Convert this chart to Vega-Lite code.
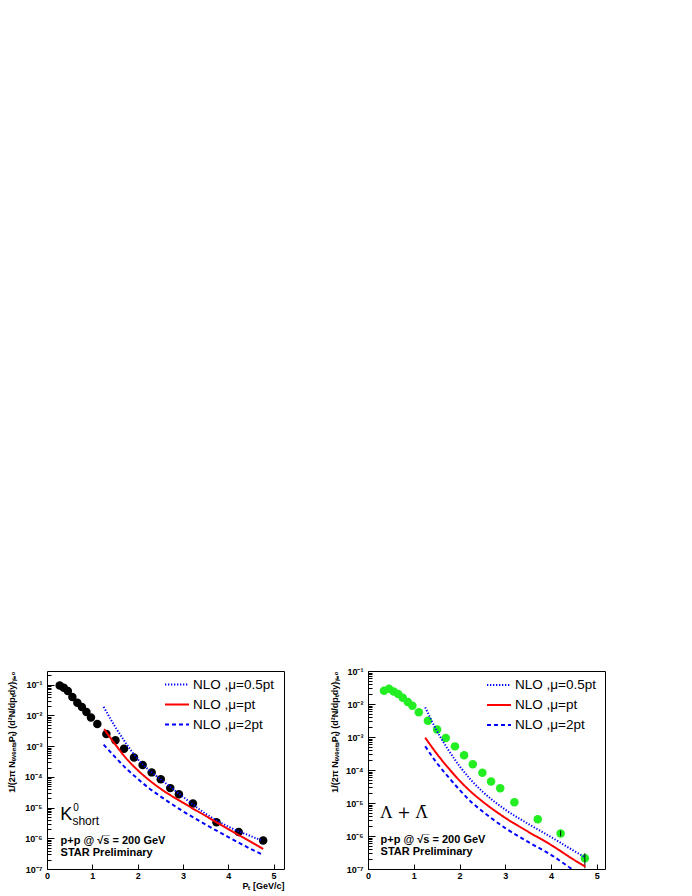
{
  "$schema": "https://vega.github.io/schema/vega-lite/v6.json",
  "background": "white",
  "padding": {"left": 7, "top": 666, "right": 0, "bottom": 0},
  "config": {
    "font": "Liberation Sans",
    "view": {"stroke": "black", "strokeWidth": 1},
    "axis": {
      "grid": false,
      "domain": false,
      "tickColor": "black",
      "labelColor": "black",
      "titleColor": "black",
      "labelFont": "Liberation Sans",
      "titleFont": "Liberation Sans",
      "labelFontSize": 9,
      "labelFontWeight": "bold",
      "titleFontSize": 9,
      "titleFontWeight": "bold",
      "labelOverlap": false,
      "labelFlush": false
    }
  },
  "datasets": {
    "k0pts": [
      {"pt": 0.28, "v": 0.095}, {"pt": 0.37, "v": 0.080}, {"pt": 0.46, "v": 0.063}, {"pt": 0.56, "v": 0.040},
      {"pt": 0.67, "v": 0.026}, {"pt": 0.77, "v": 0.019}, {"pt": 0.87, "v": 0.013}, {"pt": 0.97, "v": 0.0085},
      {"pt": 1.11, "v": 0.0053}, {"pt": 1.31, "v": 0.0025}, {"pt": 1.51, "v": 0.00155}, {"pt": 1.70, "v": 0.00083},
      {"pt": 1.92, "v": 0.00043}, {"pt": 2.11, "v": 0.000245}, {"pt": 2.31, "v": 0.000140}, {"pt": 2.51, "v": 0.000084},
      {"pt": 2.72, "v": 0.000043}, {"pt": 2.91, "v": 0.0000272}, {"pt": 3.22, "v": 0.0000135}, {"pt": 3.74, "v": 0.0000033},
      {"pt": 4.23, "v": 0.0000016}, {"pt": 4.77, "v": 0.00000085}
    ],
    "k0curves": [
      {"model": "NLO ,μ=0.5pt", "pt": 1.25, "v": 0.01905}, {"model": "NLO ,μ=0.5pt", "pt": 1.5, "v": 0.00437},
      {"model": "NLO ,μ=0.5pt", "pt": 1.75, "v": 0.0012}, {"model": "NLO ,μ=0.5pt", "pt": 2.0, "v": 0.00038},
      {"model": "NLO ,μ=0.5pt", "pt": 2.25, "v": 0.000166}, {"model": "NLO ,μ=0.5pt", "pt": 2.5, "v": 0.0000851},
      {"model": "NLO ,μ=0.5pt", "pt": 3.0, "v": 0.0000224}, {"model": "NLO ,μ=0.5pt", "pt": 3.5, "v": 0.00000631},
      {"model": "NLO ,μ=0.5pt", "pt": 4.0, "v": 0.0000024}, {"model": "NLO ,μ=0.5pt", "pt": 4.5, "v": 0.00000117},
      {"model": "NLO ,μ=0.5pt", "pt": 4.75, "v": 0.000000832},
      {"model": "NLO ,μ=pt", "pt": 1.26, "v": 0.0036}, {"model": "NLO ,μ=pt", "pt": 1.5, "v": 0.001175},
      {"model": "NLO ,μ=pt", "pt": 1.75, "v": 0.000398}, {"model": "NLO ,μ=pt", "pt": 2.0, "v": 0.000166},
      {"model": "NLO ,μ=pt", "pt": 2.25, "v": 0.0000794}, {"model": "NLO ,μ=pt", "pt": 2.5, "v": 0.0000417},
      {"model": "NLO ,μ=pt", "pt": 3.0, "v": 0.00001445}, {"model": "NLO ,μ=pt", "pt": 3.5, "v": 0.00000537},
      {"model": "NLO ,μ=pt", "pt": 4.0, "v": 0.000002}, {"model": "NLO ,μ=pt", "pt": 4.5, "v": 0.000000759},
      {"model": "NLO ,μ=pt", "pt": 4.77, "v": 0.000000447},
      {"model": "NLO ,μ=2pt", "pt": 1.25, "v": 0.00112}, {"model": "NLO ,μ=2pt", "pt": 1.5, "v": 0.000447},
      {"model": "NLO ,μ=2pt", "pt": 1.75, "v": 0.000186}, {"model": "NLO ,μ=2pt", "pt": 2.0, "v": 0.0000871},
      {"model": "NLO ,μ=2pt", "pt": 2.25, "v": 0.0000427}, {"model": "NLO ,μ=2pt", "pt": 2.5, "v": 0.0000234},
      {"model": "NLO ,μ=2pt", "pt": 3.0, "v": 0.00000759}, {"model": "NLO ,μ=2pt", "pt": 3.5, "v": 0.00000282},
      {"model": "NLO ,μ=2pt", "pt": 4.0, "v": 0.0000011}, {"model": "NLO ,μ=2pt", "pt": 4.5, "v": 0.000000447},
      {"model": "NLO ,μ=2pt", "pt": 4.77, "v": 0.000000288}
    ],
    "lampts": [
      {"pt": 0.35, "v": 0.025}, {"pt": 0.46, "v": 0.029}, {"pt": 0.56, "v": 0.024}, {"pt": 0.66, "v": 0.020},
      {"pt": 0.76, "v": 0.0155}, {"pt": 0.87, "v": 0.0115}, {"pt": 0.97, "v": 0.0089}, {"pt": 1.11, "v": 0.0056},
      {"pt": 1.31, "v": 0.0031}, {"pt": 1.51, "v": 0.0017}, {"pt": 1.70, "v": 0.00093}, {"pt": 1.90, "v": 0.00052},
      {"pt": 2.10, "v": 0.00028}, {"pt": 2.29, "v": 0.00015}, {"pt": 2.50, "v": 0.000083}, {"pt": 2.69, "v": 0.000045},
      {"pt": 2.89, "v": 0.000028}, {"pt": 3.20, "v": 0.0000105}, {"pt": 3.71, "v": 0.0000032}, {"pt": 4.21, "v": 0.0000012},
      {"pt": 4.74, "v": 0.00000021}
    ],
    "lamerr": [
      {"pt": 4.21, "lo": 0.00000098, "hi": 0.00000145},
      {"pt": 4.74, "lo": 0.000000105, "hi": 0.0000003}
    ],
    "lamcurves": [
      {"model": "NLO ,μ=0.5pt", "pt": 1.25, "v": 0.00794}, {"model": "NLO ,μ=0.5pt", "pt": 1.5, "v": 0.001585},
      {"model": "NLO ,μ=0.5pt", "pt": 1.75, "v": 0.000417}, {"model": "NLO ,μ=0.5pt", "pt": 2.0, "v": 0.000132},
      {"model": "NLO ,μ=0.5pt", "pt": 2.25, "v": 0.0000501}, {"model": "NLO ,μ=0.5pt", "pt": 2.5, "v": 0.0000224},
      {"model": "NLO ,μ=0.5pt", "pt": 3.0, "v": 0.00000631}, {"model": "NLO ,μ=0.5pt", "pt": 3.5, "v": 0.00000234},
      {"model": "NLO ,μ=0.5pt", "pt": 4.0, "v": 0.000000933}, {"model": "NLO ,μ=0.5pt", "pt": 4.5, "v": 0.000000355},
      {"model": "NLO ,μ=0.5pt", "pt": 4.75, "v": 0.000000224},
      {"model": "NLO ,μ=pt", "pt": 1.25, "v": 0.000955}, {"model": "NLO ,μ=pt", "pt": 1.5, "v": 0.000316},
      {"model": "NLO ,μ=pt", "pt": 1.75, "v": 0.0001175}, {"model": "NLO ,μ=pt", "pt": 2.0, "v": 0.0000479},
      {"model": "NLO ,μ=pt", "pt": 2.25, "v": 0.0000219}, {"model": "NLO ,μ=pt", "pt": 2.5, "v": 0.0000112},
      {"model": "NLO ,μ=pt", "pt": 3.0, "v": 0.00000355}, {"model": "NLO ,μ=pt", "pt": 3.5, "v": 0.00000135},
      {"model": "NLO ,μ=pt", "pt": 4.0, "v": 0.000000537}, {"model": "NLO ,μ=pt", "pt": 4.5, "v": 0.0000001905},
      {"model": "NLO ,μ=pt", "pt": 4.75, "v": 0.0000001175},
      {"model": "NLO ,μ=2pt", "pt": 1.25, "v": 0.000525}, {"model": "NLO ,μ=2pt", "pt": 1.5, "v": 0.000166},
      {"model": "NLO ,μ=2pt", "pt": 1.75, "v": 0.0000631}, {"model": "NLO ,μ=2pt", "pt": 2.0, "v": 0.0000251},
      {"model": "NLO ,μ=2pt", "pt": 2.25, "v": 0.00001096}, {"model": "NLO ,μ=2pt", "pt": 2.5, "v": 0.00000562},
      {"model": "NLO ,μ=2pt", "pt": 3.0, "v": 0.00000174}, {"model": "NLO ,μ=2pt", "pt": 3.5, "v": 0.000000661},
      {"model": "NLO ,μ=2pt", "pt": 4.0, "v": 0.000000269}, {"model": "NLO ,μ=2pt", "pt": 4.5, "v": 0.0000000912},
      {"model": "NLO ,μ=2pt", "pt": 4.75, "v": 0.0000000562}
    ]
  },
  "bounds": "flush",
  "spacing": 84,
  "resolve": {"scale": {"color": "independent", "strokeDash": "independent"}},
  "hconcat": [
    {
      "width": 237,
      "height": 198,
      "layer": [
        {
          "data": {"name": "k0pts"},
          "mark": {"type": "circle", "size": 72, "color": "black", "opacity": 1},
          "encoding": {
            "x": {"field": "pt", "type": "quantitative", "title": "Pₜ [GeV/c]",
              "scale": {"domain": [0, 5.23], "nice": false, "zero": false},
              "axis": {
                "values": [0,0.25,0.5,0.75,1,1.25,1.5,1.75,2,2.25,2.5,2.75,3,3.25,3.5,3.75,4,4.25,4.5,4.75,5],
                "labelExpr": "datum.value % 1 == 0 ? format(datum.value, 'd') : ''",
                "tickSize": {"condition": {"test": "datum.value % 1 == 0", "value": -5}, "value": -3},
                "labelPadding": 7,
                "titleAnchor": "end",
                "titlePadding": 1
              }
            },
            "y": {"field": "v", "type": "quantitative", "title": "1/(2π NₑᵥₑₙₜₛPₜ) (d²N/dpₜdy)ᵧ₌₀",
              "scale": {"type": "log", "domain": [1e-7, 0.28], "nice": false},
              "axis": {
                "values": [1e-7,2e-7,3e-7,4e-7,5e-7,6e-7,7e-7,8e-7,9e-7,1e-6,2e-6,3e-6,4e-6,5e-6,6e-6,7e-6,8e-6,9e-6,1e-5,2e-5,3e-5,4e-5,5e-5,6e-5,7e-5,8e-5,9e-5,1e-4,2e-4,3e-4,4e-4,5e-4,6e-4,7e-4,8e-4,9e-4,1e-3,2e-3,3e-3,4e-3,5e-3,6e-3,7e-3,8e-3,9e-3,1e-2,2e-2,3e-2,4e-2,5e-2,6e-2,7e-2,8e-2,9e-2,1e-1,2e-1],
                "labelExpr": "abs(log(datum.value)/LN10 - round(log(datum.value)/LN10)) < 0.000001 ? '10' + ['⁰','⁻¹','⁻²','⁻³','⁻⁴','⁻⁵','⁻⁶','⁻⁷'][round(-log(datum.value)/LN10)] : ''",
                "tickSize": {"condition": {"test": "abs(log(datum.value)/LN10 - round(log(datum.value)/LN10)) < 0.000001", "value": -7}, "value": -4},
                "labelPadding": 12,
                "titleAnchor": "end",
                "titlePadding": 8
              }
            }
          }
        },
        {
          "data": {"name": "k0curves"},
          "mark": {"type": "line", "clip": true, "strokeWidth": 2, "interpolate": "monotone"},
          "encoding": {
            "x": {"field": "pt", "type": "quantitative"},
            "y": {"field": "v", "type": "quantitative"},
            "order": {"field": "pt", "type": "quantitative"},
            "color": {"field": "model", "type": "nominal",
              "scale": {"domain": ["NLO ,μ=0.5pt", "NLO ,μ=pt", "NLO ,μ=2pt"], "range": ["#0000ff", "#ff0000", "#0000ff"]},
              "legend": {"orient": "none", "legendX": 117, "legendY": 0.5, "title": null, "symbolType": "stroke", "symbolSize": 576, "symbolStrokeWidth": 2, "labelFontSize": 13.5, "labelFont": "Liberation Sans", "labelColor": "black", "rowPadding": 0, "labelOffset": 3, "padding": 0}
            },
            "strokeDash": {"field": "model", "type": "nominal",
              "scale": {"domain": ["NLO ,μ=0.5pt", "NLO ,μ=pt", "NLO ,μ=2pt"], "range": [[1.3, 1.7], [1, 0], [4, 3]]},
              "legend": {"orient": "none", "legendX": 117, "legendY": 0.5, "title": null, "symbolType": "stroke", "symbolSize": 576, "symbolStrokeWidth": 2, "labelFontSize": 13.5, "labelFont": "Liberation Sans", "labelColor": "black", "rowPadding": 0, "labelOffset": 3, "padding": 0}
            }
          }
        },
        {
          "data": {"values": [{}]},
          "mark": {"type": "text", "align": "left", "baseline": "alphabetic", "fontSize": 18, "font": "Liberation Sans", "color": "black"},
          "encoding": {"x": {"datum": 0.29}, "y": {"datum": 0.0000039}, "text": {"value": "K"}}
        },
        {
          "data": {"values": [{}]},
          "mark": {"type": "text", "align": "left", "baseline": "alphabetic", "fontSize": 10, "font": "Liberation Sans", "color": "black"},
          "encoding": {"x": {"datum": 0.58}, "y": {"datum": 0.0000077}, "text": {"value": "0"}}
        },
        {
          "data": {"values": [{}]},
          "mark": {"type": "text", "align": "left", "baseline": "alphabetic", "fontSize": 12, "font": "Liberation Sans", "color": "black"},
          "encoding": {"x": {"datum": 0.56}, "y": {"datum": 0.0000027}, "text": {"value": "short"}}
        },
        {
          "data": {"values": [{}]},
          "mark": {"type": "text", "align": "left", "baseline": "alphabetic", "fontSize": 11, "fontWeight": "bold", "font": "Liberation Sans", "color": "black"},
          "encoding": {"x": {"datum": 0.3}, "y": {"datum": 0.00000067}, "text": {"value": "p+p @ √s̅ = 200 GeV"}}
        },
        {
          "data": {"values": [{}]},
          "mark": {"type": "text", "align": "left", "baseline": "alphabetic", "fontSize": 11, "fontWeight": "bold", "font": "Liberation Sans", "color": "black"},
          "encoding": {"x": {"datum": 0.3}, "y": {"datum": 0.000000275}, "text": {"value": "STAR Preliminary"}}
        }
      ]
    },
    {
      "width": 237,
      "height": 198,
      "layer": [
        {
          "data": {"name": "lampts"},
          "mark": {"type": "circle", "size": 72, "color": "#22ee22", "opacity": 1},
          "encoding": {
            "x": {"field": "pt", "type": "quantitative", "title": null,
              "scale": {"domain": [0, 5.18], "nice": false, "zero": false},
              "axis": {
                "values": [0,0.25,0.5,0.75,1,1.25,1.5,1.75,2,2.25,2.5,2.75,3,3.25,3.5,3.75,4,4.25,4.5,4.75,5],
                "labelExpr": "datum.value % 1 == 0 ? format(datum.value, 'd') : ''",
                "tickSize": {"condition": {"test": "datum.value % 1 == 0", "value": -5}, "value": -3},
                "labelPadding": 7
              }
            },
            "y": {"field": "v", "type": "quantitative", "title": "1/(2π NₑᵥₑₙₜₛPₜ) (d²N/dpₜdy)ᵧ₌₀",
              "scale": {"type": "log", "domain": [1e-7, 0.1], "nice": false},
              "axis": {
                "values": [1e-7,2e-7,3e-7,4e-7,5e-7,6e-7,7e-7,8e-7,9e-7,1e-6,2e-6,3e-6,4e-6,5e-6,6e-6,7e-6,8e-6,9e-6,1e-5,2e-5,3e-5,4e-5,5e-5,6e-5,7e-5,8e-5,9e-5,1e-4,2e-4,3e-4,4e-4,5e-4,6e-4,7e-4,8e-4,9e-4,1e-3,2e-3,3e-3,4e-3,5e-3,6e-3,7e-3,8e-3,9e-3,1e-2,2e-2,3e-2,4e-2,5e-2,6e-2,7e-2,8e-2,9e-2,1e-1],
                "labelExpr": "abs(log(datum.value)/LN10 - round(log(datum.value)/LN10)) < 0.000001 ? '10' + ['⁰','⁻¹','⁻²','⁻³','⁻⁴','⁻⁵','⁻⁶','⁻⁷'][round(-log(datum.value)/LN10)] : ''",
                "tickSize": {"condition": {"test": "abs(log(datum.value)/LN10 - round(log(datum.value)/LN10)) < 0.000001", "value": -7}, "value": -4},
                "labelPadding": 12,
                "titleAnchor": "end",
                "titlePadding": 6
              }
            }
          }
        },
        {
          "data": {"name": "lamerr"},
          "mark": {"type": "rule", "color": "black", "strokeWidth": 1},
          "encoding": {
            "x": {"field": "pt", "type": "quantitative"},
            "y": {"field": "lo", "type": "quantitative"},
            "y2": {"field": "hi"}
          }
        },
        {
          "data": {"name": "lamcurves"},
          "mark": {"type": "line", "clip": true, "strokeWidth": 2, "interpolate": "monotone"},
          "encoding": {
            "x": {"field": "pt", "type": "quantitative"},
            "y": {"field": "v", "type": "quantitative"},
            "order": {"field": "pt", "type": "quantitative"},
            "color": {"field": "model", "type": "nominal",
              "scale": {"domain": ["NLO ,μ=0.5pt", "NLO ,μ=pt", "NLO ,μ=2pt"], "range": ["#0000ff", "#ff0000", "#0000ff"]},
              "legend": {"orient": "none", "legendX": 118, "legendY": 1, "title": null, "symbolType": "stroke", "symbolSize": 576, "symbolStrokeWidth": 2, "labelFontSize": 13.5, "labelFont": "Liberation Sans", "labelColor": "black", "rowPadding": 0, "labelOffset": 3, "padding": 0}
            },
            "strokeDash": {"field": "model", "type": "nominal",
              "scale": {"domain": ["NLO ,μ=0.5pt", "NLO ,μ=pt", "NLO ,μ=2pt"], "range": [[1.3, 1.7], [1, 0], [4, 3]]},
              "legend": {"orient": "none", "legendX": 118, "legendY": 1, "title": null, "symbolType": "stroke", "symbolSize": 576, "symbolStrokeWidth": 2, "labelFontSize": 13.5, "labelFont": "Liberation Sans", "labelColor": "black", "rowPadding": 0, "labelOffset": 3, "padding": 0}
            }
          }
        },
        {
          "data": {"values": [{}]},
          "mark": {"type": "text", "align": "left", "baseline": "alphabetic", "fontSize": 16, "font": "DejaVu Serif", "color": "black"},
          "encoding": {"x": {"datum": 0.275}, "y": {"datum": 0.0000035}, "text": {"value": "Λ + Λ̄"}}
        },
        {
          "data": {"values": [{}]},
          "mark": {"type": "text", "align": "left", "baseline": "alphabetic", "fontSize": 11, "fontWeight": "bold", "font": "Liberation Sans", "color": "black"},
          "encoding": {"x": {"datum": 0.275}, "y": {"datum": 0.0000006}, "text": {"value": "p+p @ √s̅ = 200 GeV"}}
        },
        {
          "data": {"values": [{}]},
          "mark": {"type": "text", "align": "left", "baseline": "alphabetic", "fontSize": 11, "fontWeight": "bold", "font": "Liberation Sans", "color": "black"},
          "encoding": {"x": {"datum": 0.275}, "y": {"datum": 0.00000026}, "text": {"value": "STAR Preliminary"}}
        }
      ]
    }
  ]
}
